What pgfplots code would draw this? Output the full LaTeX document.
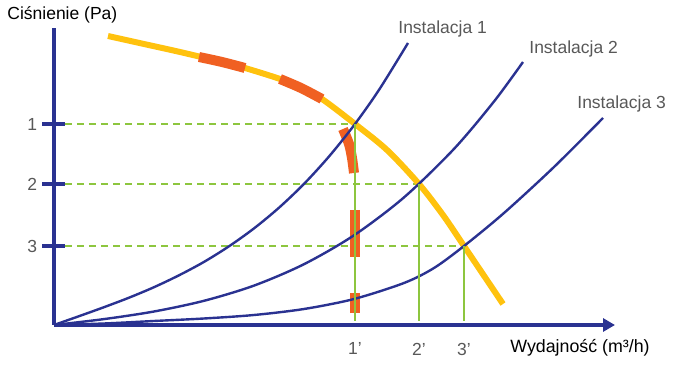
\documentclass[border=0pt]{standalone}
\usepackage{fontspec}
\setmainfont{Liberation Sans}
\usepackage{pgfplots}
\pgfplotsset{compat=1.18}
\usetikzlibrary{arrows.meta}
\definecolor{navy}{RGB}{42,50,145}
\definecolor{fanyellow}{RGB}{255,194,14}
\definecolor{orng}{RGB}{240,96,34}
\definecolor{grn}{RGB}{141,198,63}
\definecolor{txt}{RGB}{88,88,88}
\begin{document}
\begin{tikzpicture}
\begin{axis}[
  x=0.5pt, y=0.5pt,
  xmin=0, xmax=561, ymin=0, ymax=297,
  axis lines=left,
  axis line style={navy, line width=2pt},
  x axis line style={-{Triangle[length=6pt,width=6.5pt]}},
  y axis line style={-},
  clip=false,
  xtick={301,365,410}, xticklabels={1',2',3'},
  ytick={201,141,79}, yticklabels={1,2,3},
  xtick style={draw=none},
  ytick style={navy, line width=2pt},
  tick align=center,
  major tick length=11.5pt,
  tick label style={font=\fontsize{8.75}{10}\selectfont, text=txt},
  yticklabel style={anchor=east, inner sep=0pt, xshift=-2.5pt},
  xticklabel style={anchor=north, inner sep=0pt, yshift=-3pt},
  xlabel={Wydajność (m³/h)}, ylabel={Ciśnienie (Pa)},
  label style={text=txt},
  every axis x label/.style={at={(axis description cs:0.8128,-0.0774)}, anchor=west, inner sep=0pt, font=\fontsize{8.9}{10}\selectfont},
  every axis y label/.style={at={(axis description cs:-0.0838,1.0438)}, anchor=west, inner sep=0pt, font=\fontsize{8.75}{10}\selectfont},
]
\path (axis cs:-54,-49) rectangle (axis cs:632,325);
% green dashed guides
\addplot[grn, line width=1pt, dash pattern=on 3.5pt off 2.5pt] coordinates {(11,201) (301,201)};
\addplot[grn, line width=1pt, dash pattern=on 3.5pt off 2.5pt] coordinates {(11,141) (365,141)};
\addplot[grn, line width=1pt, dash pattern=on 3.5pt off 2.5pt] coordinates {(11,79) (410,79)};
% fan curve
\addplot[fanyellow, line width=3pt, smooth, tension=0.5] coordinates {
 (54,289) (90,281) (126,273) (168,263) (191,257) (226,246) (247,237) (268,226)
 (301,201) (333,175) (365,141) (389,110) (410,79) (449,21)};
% orange dashes
\addplot[orng, line width=5pt, line cap=butt, smooth] coordinates {(145,268) (168,263) (191,257)};
\addplot[orng, line width=5pt, line cap=butt, smooth] coordinates {(226,246) (247,237) (268,226)};
\addplot[orng, line width=5pt, line cap=butt, smooth] coordinates {(289,196) (295,181) (298,167) (300,152)};
\addplot[orng, line width=5pt, line cap=butt] coordinates {(301,115) (301,68)};
\addplot[orng, line width=5pt, line cap=butt] coordinates {(301,32) (301,12)};
% system curves
\addplot[navy, line width=1.2pt, smooth, tension=0.5] coordinates {
 (0,0) (25,8.8) (50,17.8) (75,27.3) (100,37.8) (125,49.7) (150,63.1) (175,78.7) (200,96.6)
 (225,117.3) (250,141.1) (275,168.5) (300,199.7) (325,235.1) (354,282)};
\addplot[navy, line width=1.2pt, smooth, tension=0.5] coordinates {
 (0,0) (50,5.9) (100,13.5) (150,24.2) (200,39.4) (250,60.8) (300,89.7) (350,127.6)
 (400,176.1) (440,223.5) (469,263)};
\addplot[navy, line width=1.2pt, smooth, tension=0.5] coordinates {
 (0,0) (50,1.5) (100,4) (150,6.5) (200,10) (250,16) (300,26) (350,42) (380,57)
 (410,79) (450,112) (500,158) (549,207)};
% green verticals
\addplot[grn, line width=0.8pt] coordinates {(301,201) (301,4)};
\addplot[grn, line width=0.8pt] coordinates {(365,141) (365,4)};
\addplot[grn, line width=0.8pt] coordinates {(410,79) (410,4)};
% labels
\node[anchor=west, inner sep=0pt, text=txt, font=\fontsize{8.75}{10}\selectfont] at (axis cs:344,296) {Instalacja 1};
\node[anchor=west, inner sep=0pt, text=txt, font=\fontsize{8.75}{10}\selectfont] at (axis cs:475,276) {Instalacja 2};
\node[anchor=west, inner sep=0pt, text=txt, font=\fontsize{8.75}{10}\selectfont] at (axis cs:523,221) {Instalacja 3};
\end{axis}
\end{tikzpicture}
\end{document}
